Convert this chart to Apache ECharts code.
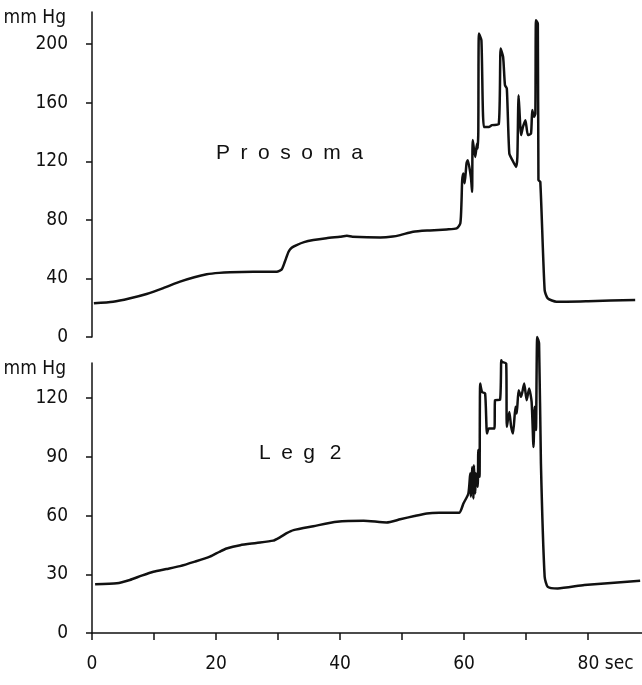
<!DOCTYPE html>
<html>
<head>
<meta charset="utf-8">
<script src="https://cdn.jsdelivr.net/npm/echarts@6/dist/echarts.min.js"></script>
<style>
  html, body { margin: 0; padding: 0; background: #fff; }
  #chart { width: 642px; height: 685px; }
</style>
</head>
<body>
<div id="chart"></div>
<script>
// Prosoma pressure trace (sec, mm Hg)
const prosomaTime = [0.3, 3.4, 6, 8.8, 11.5, 14.2, 16.5, 18.5, 20.5, 22.3, 26, 29.8, 30.6, 31.1, 31.7, 32.2, 33.0, 34.2, 35.7, 37.8, 40.0, 41.1, 42, 46.5, 48.5, 49.7, 51.8, 54.5, 57.2, 58.8, 59.4, 59.6, 59.7, 59.9, 60.1, 60.4, 60.6, 61.1, 61.3, 61.4, 61.8, 62.1, 62.2, 62.3, 62.4, 62.8, 63.2, 64.0, 64.5, 65.6, 65.9, 66.3, 66.6, 66.9, 67.3, 67.8, 68.4, 68.6, 68.8, 69.2, 69.5, 69.9, 70.3, 70.8, 71.0, 71.3, 71.5, 71.6, 71.9, 72.0, 72.3, 73.0, 73.5, 74.9, 80, 87.6];
const prosomaPressure = [23.0, 24.1, 26.3, 29.4, 33.4, 37.8, 40.8, 42.8, 43.8, 44.2, 44.5, 44.6, 46.2, 51.4, 58.2, 61, 62.8, 64.8, 66.2, 67.5, 68.5, 69.1, 68.5, 68.0, 68.6, 69.6, 71.9, 72.8, 73.5, 74.2, 77.6, 93.5, 107, 111.7, 105, 118.6, 120.8, 109.4, 99.2, 134.5, 123, 132.2, 128.8, 140.1, 207.3, 202.7, 143.5, 143.5, 144.7, 145.4, 197, 191.3, 172, 169.7, 125.4, 120.8, 116.2, 123, 165.2, 137.9, 143.5, 148.1, 137.9, 139, 155, 150.4, 152.7, 216.4, 214, 107.2, 106, 32, 26.4, 24.1, 24.5, 25.3];

// Leg 2 pressure trace (sec, mm Hg)
const legTime = [0.5, 4.0, 6.1, 8, 9.9, 12, 14.2, 16.6, 19.0, 20.5, 21.7, 23.9, 26.5, 29.2, 30.3, 31.4, 32.5, 35.7, 39.5, 43.8, 47.5, 49.7, 52, 54.0, 56, 59.2, 59.9, 60.7, 61.0, 61.1, 61.3, 61.5, 61.6, 61.8, 61.9, 62.2, 62.3, 62.5, 62.6, 62.9, 63.4, 63.7, 64.0, 64.9, 65.0, 65.8, 66.0, 66.1, 66.8, 66.9, 67.3, 67.6, 67.9, 68.3, 68.5, 68.8, 69.2, 69.7, 70.1, 70.5, 70.9, 71.2, 71.4, 71.6, 71.8, 72.1, 72.4, 73.0, 73.5, 75.1, 79.4, 88.4];
const legPressure = [24.9, 25.4, 27.1, 29.3, 31.3, 32.7, 34.2, 36.5, 39.0, 41.4, 43.2, 44.9, 46, 47.2, 48.9, 51, 52.6, 54.6, 56.9, 57.4, 56.5, 58.1, 59.8, 61.1, 61.4, 61.4, 66.2, 71.3, 81.6, 69.6, 84.9, 68.8, 85.8, 71.3, 81.6, 74.7, 93.5, 79.8, 127.5, 123.2, 122.4, 102, 104.5, 104.5, 119, 119.2, 139.4, 138.6, 137.7, 105.4, 113, 105.4, 102, 115.6, 112.2, 124.1, 120.7, 127.5, 119, 125, 118.1, 95.1, 115.6, 103.7, 151.3, 148, 86.7, 28.8, 23.6, 22.8, 24.5, 26.7];

// ticks
const prosomaTicks = [0, 40, 80, 120, 160, 200];
const legTicks = [0, 30, 60, 90, 120];
const timeTicks = [0, 10, 20, 30, 40, 50, 60, 70, 80];
const timeLabels = [0, 20, 40, 60, 80];

const ink = '#111';
const font = "'Liberation Sans Narrow', 'DejaVu Sans Condensed', sans-serif";

const chart = echarts.init(document.getElementById('chart'));

function yAxisFor(gridIndex, max, ticks) {
  return {
    type: 'value',
    gridIndex: gridIndex,
    min: 0,
    max: max,
    offset: 20,
    name: 'mm Hg',
    nameLocation: 'end',
    nameGap: -6,
    nameTextStyle: {
      color: ink, fontFamily: font, fontSize: 19,
      align: 'right', verticalAlign: 'middle', padding: [0, 26, 0, 0]
    },
    splitLine: { show: false },
    axisLine: { show: true, lineStyle: { color: ink, width: 1.5 } },
    axisTick: { show: true, length: 6, customValues: ticks, lineStyle: { color: ink, width: 1.5 } },
    axisLabel: { customValues: ticks, color: ink, fontFamily: font, fontSize: 19, margin: 4 }
  };
}

const option = {
  animation: false,
  backgroundColor: '#fff',
  title: [
    { text: 'P\u2002r\u2002o\u2002s\u2002o\u2002m\u2002a', left: 211, top: 138,
      textStyle: { color: ink, fontFamily: 'Liberation Sans, Arial, sans-serif', fontSize: 21, fontWeight: 'normal' } },
    { text: 'L\u2002e\u2002g\u2002\u20092', left: 254, top: 438,
      textStyle: { color: ink, fontFamily: 'Liberation Sans, Arial, sans-serif', fontSize: 21, fontWeight: 'normal' } }
  ],
  grid: [
    { left: 92, right: 0, top: 12, height: 325 },
    { left: 92, right: 0, top: 363, height: 270 }
  ],
  xAxis: [
    { type: 'value', gridIndex: 0, min: 0, max: 88.7, show: false },
    {
      type: 'value', gridIndex: 1, min: 0, max: 88.7,
      offset: 14,
      splitLine: { show: false },
      axisLine: { show: true, lineStyle: { color: ink, width: 1.5 } },
      axisTick: { show: true, length: 7, customValues: timeTicks, lineStyle: { color: ink, width: 1.5 } },
      axisLabel: {
        customValues: timeLabels, color: ink, fontFamily: font, fontSize: 19, margin: 8,
        formatter: function (v) { return v === 80 ? '{p|}80 sec' : String(v); },
        rich: { p: { width: 35 } }
      }
    }
  ],
  yAxis: [
    yAxisFor(0, 222, prosomaTicks),
    yAxisFor(1, 138, legTicks)
  ],
  series: [
    {
      name: 'Prosoma', type: 'line', xAxisIndex: 0, yAxisIndex: 0,
      data: prosomaTime.map((t, i) => [t, prosomaPressure[i]]),
      showSymbol: false, clip: false, smooth: 0.2,
      lineStyle: { color: ink, width: 2.5, join: 'round' }
    },
    {
      name: 'Leg 2', type: 'line', xAxisIndex: 1, yAxisIndex: 1,
      data: legTime.map((t, i) => [t, legPressure[i]]),
      showSymbol: false, clip: false, smooth: 0.2,
      lineStyle: { color: ink, width: 2.5, join: 'round' }
    }
  ]
};

chart.setOption(option);
</script>
</body>
</html>
